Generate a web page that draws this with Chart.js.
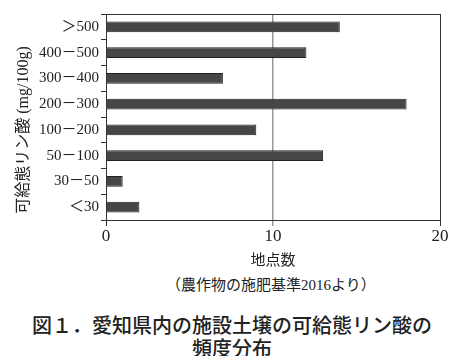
<!DOCTYPE html>
<html>
<head>
<meta charset="utf-8">
<script src="https://cdn.jsdelivr.net/npm/chart.js@4"></script>
<style>
  html, body { margin: 0; padding: 0; background: #fff; }
  body { width: 464px; height: 356px; position: relative; overflow: hidden; }
  #wrap { position: absolute; left: 0; top: 0; width: 464px; height: 270px; }
  .src { position: absolute; left: 166px; top: 275px; white-space: nowrap;
         font-family: "Liberation Serif", "Noto Sans CJK JP", serif; font-size: 15px; line-height: 20px; color: #222; }
  .cap { position: absolute; left: 0; width: 464px; top: 313px; text-align: center; white-space: nowrap;
         font-family: "Noto Sans CJK JP", sans-serif; font-weight: 500; font-size: 20px; line-height: 23px; color: #222; }
</style>
</head>
<body>
<div id="wrap"><canvas id="chart"></canvas></div>
<div class="src">（農作物の施肥基準2016より）</div>
<div class="cap">図１．愛知県内の施設土壌の可給態リン酸の<br>頻度分布</div>
<script>
const categories = ["＞500", "400－500", "300－400", "200－300", "100－200", "50－100", "30－50", "＜30"];
const counts = [14, 12, 7, 18, 9, 13, 1, 2];
const xTicks = [0, 10, 20];
const yTitle = "可給態リン酸 (mg/100g)";

const serif = "'Liberation Serif', 'Noto Sans CJK JP', serif";

// outer frame of the plot box + rotated y title, placed off-centre like the original
const extras = {
  id: "extras",
  afterDraw(chart) {
    const { ctx, chartArea: a } = chart;
    ctx.save();
    ctx.strokeStyle = "#333";
    ctx.lineWidth = 1;
    ctx.strokeRect(Math.round(a.left) + 0.5, Math.round(a.top) + 0.5, Math.round(a.right - a.left), Math.round(a.bottom - a.top));
    ctx.translate(24, 130);
    ctx.rotate(-Math.PI / 2);
    ctx.font = "16px " + serif;
    ctx.fillStyle = "#222";
    ctx.textAlign = "center";
    ctx.textBaseline = "middle";
    ctx.fillText(yTitle, 0, 0);
    ctx.restore();
  },
};

new Chart(document.getElementById("chart"), {
  type: "bar",
  data: {
    labels: categories,
    datasets: [{
      data: counts,
      backgroundColor: "#464646",
      borderColor: "#222",
      borderWidth: 1,
      barPercentage: 0.41,
      categoryPercentage: 1,
    }],
  },
  options: {
    indexAxis: "y",
    responsive: true,
    maintainAspectRatio: false,
    animation: false,
    layout: { padding: { top: 14, right: 24, left: 0, bottom: 0 } },
    plugins: { legend: { display: false }, tooltip: { enabled: false } },
    scales: {
      x: {
        min: 0,
        max: 20,
        afterBuildTicks: (s) => { s.ticks = xTicks.map((v) => ({ value: v })); },
        afterFit: (s) => { s.height = 50; },
        border: { display: true, color: "#333" },
        grid: {
          color: (c) => (c.index === 1 ? "#999" : "#333"),
          lineWidth: (c) => (c.index === 1 ? 1.5 : 1),
          tickLength: 6,
        },
        ticks: { color: "#222", font: { family: serif, size: 17 }, padding: 0, maxRotation: 0 },
        title: { display: true, text: "地点数", color: "#222", font: { family: serif, size: 15 }, padding: { top: 4, bottom: 0 } },
      },
      y: {
        afterFit: (s) => { s.width = 106; },
        border: { display: true, color: "#333" },
        grid: { offset: true, drawOnChartArea: false, tickLength: 5, color: "#333" },
        ticks: { color: "#222", font: { family: serif, size: 15 }, padding: 2 },
        title: { display: false },
      },
    },
  },
  plugins: [extras],
});
</script>
</body>
</html>
